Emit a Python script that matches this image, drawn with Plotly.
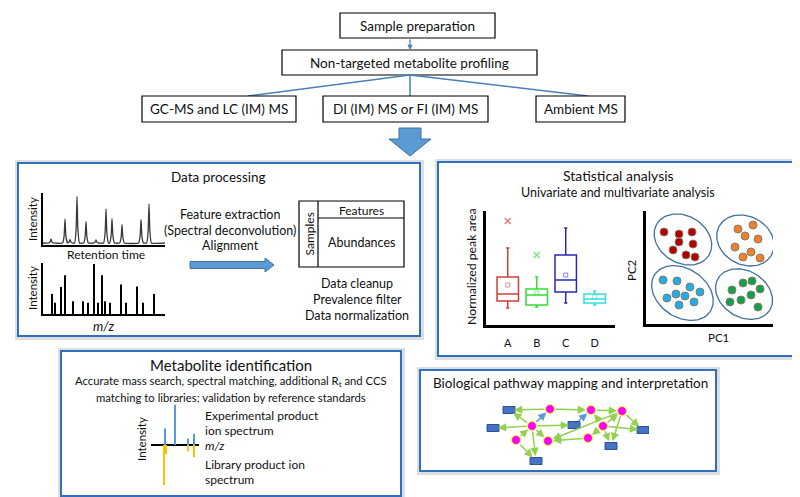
import numpy as np
import plotly.graph_objects as go

W, H = 800, 497
FONT = "Lato"

# ---------------- data ----------------
# chromatogram (retention time in min, relative intensity)
chrom_rt = [2.0, 5.5, 6.75, 8.5, 10.75, 13.25, 15.75, 17.25, 19.75, 24.5, 26.5]
chrom_int = [0.08, 0.48, 0.07, 0.93, 0.43, 0.06, 0.68, 0.49, 0.37, 0.47, 0.78]

# mass spectrum (m/z, relative intensity)
ms_mz = [77, 86, 104, 116, 140, 170, 185, 203, 215, 227, 236, 251, 284, 299, 332, 350, 383]
ms_int = [0.39, 0.22, 0.53, 0.76, 0.25, 0.25, 0.22, 0.98, 0.22, 0.76, 0.25, 0.22,
          0.58, 0.22, 0.54, 0.22, 0.39]

# box plot summary statistics
box_groups = ["A", "B", "C", "D"]
box_colors = ["#d23c3c", "#33dd33", "#2a2ab6", "#33dede"]
box_lower = [1.7, 1.8, 2.2, 2.0]
box_q1 = [2.4, 2.0, 3.3, 2.2]
box_median = [3.1, 3.0, 4.5, 2.6]
box_q3 = [4.8, 3.6, 7.0, 3.1]
box_upper = [7.7, 4.8, 9.7, 3.4]
box_mean = [4.0, 3.2, 5.0, 2.8]
outlier_groups = ["A", "B"]
outlier_values = [10.4, 7.0]

# PCA scores
pc_red_x = [-3.58, -2.40, -1.38, -2.40, -1.30, -2.87, -1.85, -1.14]
pc_red_y = [3.14, 2.96, 3.14, 2.26, 2.08, 1.55, 1.11, 0.93]
pc_orange_x = [2.24, 3.43, 2.80, 3.82, 2.01, 3.27, 2.64, 3.98]
pc_orange_y = [3.41, 3.76, 2.79, 2.52, 1.81, 1.37, 0.93, 0.84]
pc_cyan_x = [-3.66, -2.56, -1.54, -0.75, -3.35, -2.64, -1.93, -1.22, -2.40]
pc_cyan_y = [-1.11, -1.19, -1.73, -2.17, -2.70, -2.35, -2.52, -3.05, -3.32]
pc_green_x = [2.64, 3.35, 1.77, 3.98, 3.27, 1.61, 2.48, 3.82]
pc_green_y = [-1.37, -1.19, -1.99, -1.90, -2.43, -3.05, -2.88, -3.50]
cluster_colors = ["#b20000", "#f07f2a", "#1eaee8", "#13a14a"]
ell_cx = [-2.09, 2.83, -2.13, 2.72]
ell_cy = [2.48, 2.39, -2.26, -2.35]
ell_a = [2.5, 2.45, 2.75, 2.5]
ell_b = [2.0, 2.05, 2.05, 1.95]

# mirror spectrum
exp_mz = [170, 220, 285, 315]
exp_int = [0.41, 1.0, 0.16, 0.28]
lib_mz = [165, 173, 285, 315]
lib_int = [1.0, 0.23, 0.16, 0.31]

# pathway network
met_names = ["n1", "n2", "n3", "n4", "n5", "n6", "n7", "n8"]
met_x = [64, 46, 30, 62, 105, 136, 117, 102]
met_y = [6, 23, 37, 38, 7, 8, 23, 35]
gene_names = ["r1", "r2", "r3", "r4", "r5", "r6"]
gene_x = [23, 7, 88, 50, 125, 157]
gene_y = [7, 25, 22, 58, 43, 27]
edges_src = ["n1", "n2", "n2", "n2", "n2", "n3", "n2", "n2", "n3", "n1", "r3",
             "n5", "n7", "n7", "n7", "n6", "n7", "n7", "n6", "n8", "n6"]
edges_dst = ["r1", "r1", "r2", "n1", "r3", "n2", "n4", "r4", "r4", "n5", "n5",
             "n6", "n5", "n6", "r6", "r6", "n8", "r5", "r5", "n4", "n4"]
edges_blue = [False, False, False, True, False, False, False, False, False, False, True,
              False, False, False, False, False, False, False, False, False, False]

# ---------------- helpers ----------------
def dx(a, b):
    return [a / W, b / W]

def dy(top, bottom):
    return [1 - bottom / H, 1 - top / H]

shapes = []
annotations = []

def text(x, y, s, size=13, angle=0, anchor="center", color="#111111"):
    annotations.append(dict(x=x, y=y, xref="x", yref="y", text=s, showarrow=False,
                            font=dict(family=FONT, size=size, color=color),
                            textangle=angle, xanchor=anchor, yanchor="middle"))

def rect(x0, y0, x1, y1, line="black", lw=1.2, fill="white", layer="above"):
    shapes.append(dict(type="rect", xref="x", yref="y", x0=x0, y0=y0, x1=x1, y1=y1,
                       line=dict(color=line, width=lw), fillcolor=fill, layer=layer))

def line(x0, y0, x1, y1, color="#4a7ebb", lw=1.5):
    shapes.append(dict(type="line", xref="x", yref="y", x0=x0, y0=y0, x1=x1, y1=y1,
                       line=dict(color=color, width=lw)))

def panel(x0, y0, x1, y1):
    rect(x0 - 3, y0 - 3, x1 + 4, y1 + 4, line="rgba(0,0,0,0)", lw=0, fill="#dedede", layer="below")
    rect(x0, y0, x1, y1, line="#2e6fbf", lw=2, fill="white", layer="below")

fig = go.Figure()

# invisible canvas trace
fig.add_trace(go.Scatter(x=[0, W], y=[0, H], mode="markers", marker=dict(opacity=0),
                         hoverinfo="skip", showlegend=False))

# ---------------- top flow chart ----------------
rect(332, 5, 487, 30)
text(409.5, 17.5, "Sample preparation", 13.5)
annotations.append(dict(x=402, y=42, ax=402, ay=30, xref="x", yref="y", axref="x", ayref="y",
                        showarrow=True, arrowhead=2, arrowsize=0.8, arrowwidth=1.3,
                        arrowcolor="#4a7ebb", text=""))
rect(274, 42, 529, 67)
text(401.5, 54.5, "Non-targeted metabolite profiling", 13.5)
line(402, 67, 240, 88)
line(402, 67, 402, 88)
line(402, 67, 580, 88)
rect(134, 88, 288, 114)
text(211, 101, "GC-MS and LC (IM) MS", 13.5)
rect(315, 88, 480, 114)
text(397.5, 101, "DI (IM) MS or FI (IM) MS", 13.5)
rect(528, 88, 617, 114)
text(572.5, 101, "Ambient MS", 13.5)
shapes.append(dict(type="path", xref="x", yref="y",
                   path="M 391 120 L 413 120 L 413 131 L 423 131 L 402 148 L 381 131 L 391 131 Z",
                   fillcolor="#5b9bd5", line=dict(color="#41719c", width=1)))

# ---------------- panels ----------------
panel(10, 155, 412, 328)
panel(430, 154, 792, 348)
panel(53, 343, 393, 488)
panel(412, 362, 708, 463)

# Data processing panel texts
text(210, 169, "Data processing", 13.5)
text(24, 211, "Intensity", 11.5, angle=-90)
text(98, 246, "Retention time", 12)
text(24, 280, "Intensity", 11.5, angle=-90)
text(96, 318, "<i>m/z</i>", 13)
text(222, 206, "Feature extraction", 12.5)
text(222, 222, "(Spectral deconvolution)", 12.5)
text(222, 237, "Alignment", 12.5)
shapes.append(dict(type="path", xref="x", yref="y",
                   path="M 182 253.5 L 257 253.5 L 257 250 L 266 257 L 257 264 L 257 260.5 L 182 260.5 Z",
                   fillcolor="#5b9bd5", line=dict(color="#41719c", width=1)))
rect(291, 193, 396, 259)
line(310, 193, 310, 259, color="black", lw=1.2)
line(310, 210, 396, 210, color="black", lw=1.2)
text(353, 202, "Features", 12)
text(353, 234, "Abundances", 12.5)
text(300.5, 226, "Samples", 12, angle=-90)
text(349, 275, "Data cleanup", 12.5)
text(349, 291, "Prevalence filter", 12.5)
text(349, 307, "Data normalization", 12.5)

# Statistical panel texts
text(610, 167, "Statistical analysis", 14)
text(610, 184, "Univariate and multivariate analysis", 12.5)
text(463, 259, "Normalized peak area", 12.3, angle=-90)
text(623, 262, "PC2", 11.5, angle=-90)
text(710, 329, "PC1", 11.5)

# Metabolite identification panel texts
text(223, 357, "Metabolite identification", 15)
text(223, 373, "Accurate mass search, spectral matching, additional R<sub>t</sub> and CCS", 11.3)
text(223, 389, "matching to libraries; validation by reference standards", 11.3)
text(133, 431, "Intensity", 11.5, angle=-90)
text(195, 407, "Experimental product", 12, anchor="left")
text(195, 422, "ion spectrum", 12, anchor="left")
text(195, 437, "<i>m/z</i>", 12, anchor="left")
text(195, 456, "Library product ion", 12, anchor="left")
text(195, 471, "spectrum", 12, anchor="left")

# Pathway panel
text(423, 375, "Biological pathway mapping and interpretation", 13.5, anchor="left")

# ---------------- chromatogram ----------------
cx, cy = [0.0], [0.0]
for rt, h in zip(chrom_rt, chrom_int):
    cx += [rt - 0.6, rt - 0.22, rt, rt + 0.22, rt + 0.6]
    cy += [0.0, 0.3 * h, h, 0.3 * h, 0.0]
cx.append(30.5)
cy.append(0.0)
fig.add_trace(go.Scatter(x=cx, y=cy, mode="lines", line=dict(color="#3a3a3a", width=1.3, shape="spline", smoothing=0.35),
                         xaxis="x2", yaxis="y2", showlegend=False, hoverinfo="skip"))

# ---------------- mass spectrum ----------------
fig.add_trace(go.Bar(x=ms_mz, y=ms_int, width=5, marker=dict(color="black", line=dict(width=0)),
                     xaxis="x3", yaxis="y3", showlegend=False, hoverinfo="skip"))

# ---------------- box plot ----------------
for g, c, lo, q1, md, q3, up in zip(box_groups, box_colors, box_lower, box_q1, box_median, box_q3, box_upper):
    fig.add_trace(go.Box(x=[g], q1=[q1], median=[md], q3=[q3], lowerfence=[lo], upperfence=[up],
                         line=dict(color=c, width=1.5), fillcolor="rgba(255,255,255,0)",
                         width=0.74, whiskerwidth=0.15, boxpoints=False,
                         xaxis="x4", yaxis="y4", showlegend=False, hoverinfo="skip"))
fig.add_trace(go.Scatter(x=box_groups, y=box_mean, mode="markers",
                         marker=dict(symbol="square-open", size=4, color=box_colors, opacity=0.55, line=dict(width=1)),
                         xaxis="x4", yaxis="y4", showlegend=False, hoverinfo="skip"))
fig.add_trace(go.Scatter(x=outlier_groups, y=outlier_values, mode="markers",
                         marker=dict(symbol="x-thin-open", size=6, color=box_colors[:2], opacity=0.7,
                                     line=dict(width=1.3, color=box_colors[:2])),
                         xaxis="x4", yaxis="y4", showlegend=False, hoverinfo="skip"))

# ---------------- PCA ----------------
t = np.linspace(0, 2 * np.pi, 120)
th = np.deg2rad(-45)
for ex, ey, ea, eb in zip(ell_cx, ell_cy, ell_a, ell_b):
    fig.add_trace(go.Scatter(x=ex + ea * np.cos(t) * np.cos(th) - eb * np.sin(t) * np.sin(th),
                             y=ey + ea * np.cos(t) * np.sin(th) + eb * np.sin(t) * np.cos(th),
                             mode="lines", line=dict(color="#41719c", width=1.3),
                             xaxis="x5", yaxis="y5", showlegend=False, hoverinfo="skip"))
for xs, ys, col in zip([pc_red_x, pc_orange_x, pc_cyan_x, pc_green_x],
                       [pc_red_y, pc_orange_y, pc_cyan_y, pc_green_y], cluster_colors):
    fig.add_trace(go.Scatter(x=xs, y=ys, mode="markers",
                             marker=dict(size=8, color=col, line=dict(color="#8a7a6a", width=1)),
                             xaxis="x5", yaxis="y5", showlegend=False, hoverinfo="skip"))

# ---------------- mirror spectrum ----------------
fig.add_trace(go.Bar(x=exp_mz, y=exp_int, width=6, marker=dict(color="#5b9bd5", line=dict(width=0)),
                     xaxis="x6", yaxis="y6", showlegend=False, hoverinfo="skip"))
fig.add_trace(go.Bar(x=lib_mz, y=[-v for v in lib_int], width=6, marker=dict(color="#ffc000", line=dict(width=0)),
                     xaxis="x6", yaxis="y6", showlegend=False, hoverinfo="skip"))

# ---------------- network ----------------
pos = {n: (x, y) for n, x, y in zip(met_names, met_x, met_y)}
pos.update({n: (x, y) for n, x, y in zip(gene_names, gene_x, gene_y)})
for s, d, blue in zip(edges_src, edges_dst, edges_blue):
    annotations.append(dict(x=pos[d][0], y=pos[d][1], ax=pos[s][0], ay=pos[s][1],
                            xref="x7", yref="y7", axref="x7", ayref="y7", text="",
                            showarrow=True, arrowhead=2, arrowsize=1.1, arrowwidth=1.5,
                            arrowcolor="#5b9bd5" if blue else "#92d050",
                            standoff=5, startstandoff=4))
for gx, gy in zip(gene_x, gene_y):
    shapes.append(dict(type="rect", xref="x7", yref="y7", x0=gx - 6, x1=gx + 6, y0=gy - 3.5, y1=gy + 3.5,
                       fillcolor="#4472c4", line=dict(color="#2f528f", width=1)))
fig.add_trace(go.Scatter(x=met_x, y=met_y, mode="markers",
                         marker=dict(size=9, color="#ff00ff", line=dict(color="#ffff00", width=1)),
                         xaxis="x7", yaxis="y7", showlegend=False, hoverinfo="skip"))

# ---------------- axes ----------------
hidden = dict(showgrid=False, zeroline=False, showticklabels=False, ticks="", fixedrange=True)
lay = dict(
    xaxis=dict(range=[0, W], domain=[0, 1], visible=False, **hidden),
    yaxis=dict(range=[H, 0], domain=[0, 1], visible=False, **hidden),
    # chromatogram
    xaxis2=dict(domain=dx(35, 157), range=[0, 30.5], anchor="y2", showline=True, linecolor="black", linewidth=1.5, **hidden),
    yaxis2=dict(domain=dy(185, 237), range=[-0.04, 1.0], anchor="x2", showline=True, linecolor="black", linewidth=1.5, **hidden),
    # mass spectrum
    xaxis3=dict(domain=dx(35, 157), range=[50, 416], anchor="y3", showline=True, linecolor="black", linewidth=1.5, **hidden),
    yaxis3=dict(domain=dy(255, 306), range=[0, 1.0], anchor="x3", showline=True, linecolor="black", linewidth=1.5, **hidden),
    # boxplot
    xaxis4=dict(domain=dx(478, 607), type="category", categoryorder="array", categoryarray=box_groups,
                range=[-0.75, 3.7], anchor="y4", showline=True, linecolor="black", linewidth=3,
                showgrid=False, zeroline=False, showticklabels=True, ticks="", ticklabelstandoff=6,
                tickfont=dict(family=FONT, size=11, color="#111"), fixedrange=True),
    yaxis4=dict(domain=dy(203, 317), range=[0, 11.4], anchor="x4", showline=True, linecolor="black", linewidth=3, **hidden),
    # PCA
    xaxis5=dict(domain=dx(638, 765), range=[-5, 5], anchor="y5", showline=True, linecolor="black", linewidth=3, **hidden),
    yaxis5=dict(domain=dy(203, 316), range=[-5, 5], anchor="x5", showline=True, linecolor="black", linewidth=3, **hidden),
    # mirror spectrum
    xaxis6=dict(domain=dx(143, 191), range=[100, 340], anchor="y6", visible=False, **hidden),
    yaxis6=dict(domain=dy(396, 477), range=[-1.0, 1.02], anchor="x6", showgrid=False, zeroline=True,
                zerolinecolor="black", zerolinewidth=2, showticklabels=False, ticks="", showline=False, fixedrange=True),
    # network
    xaxis7=dict(domain=dx(478, 641), range=[0, 163], anchor="y7", visible=False, **hidden),
    yaxis7=dict(domain=dy(395, 460), range=[65, 0], anchor="x7", visible=False, **hidden),
)
fig.update_layout(**lay)
fig.update_layout(width=W, height=H, margin=dict(l=0, r=0, t=0, b=0), autosize=False,
                  paper_bgcolor="white", plot_bgcolor="rgba(0,0,0,0)", barmode="overlay",
                  boxmode="overlay", showlegend=False, shapes=shapes, annotations=annotations,
                  font=dict(family=FONT))
fig.write_html("out.html", config={"displayModeBar": False})
